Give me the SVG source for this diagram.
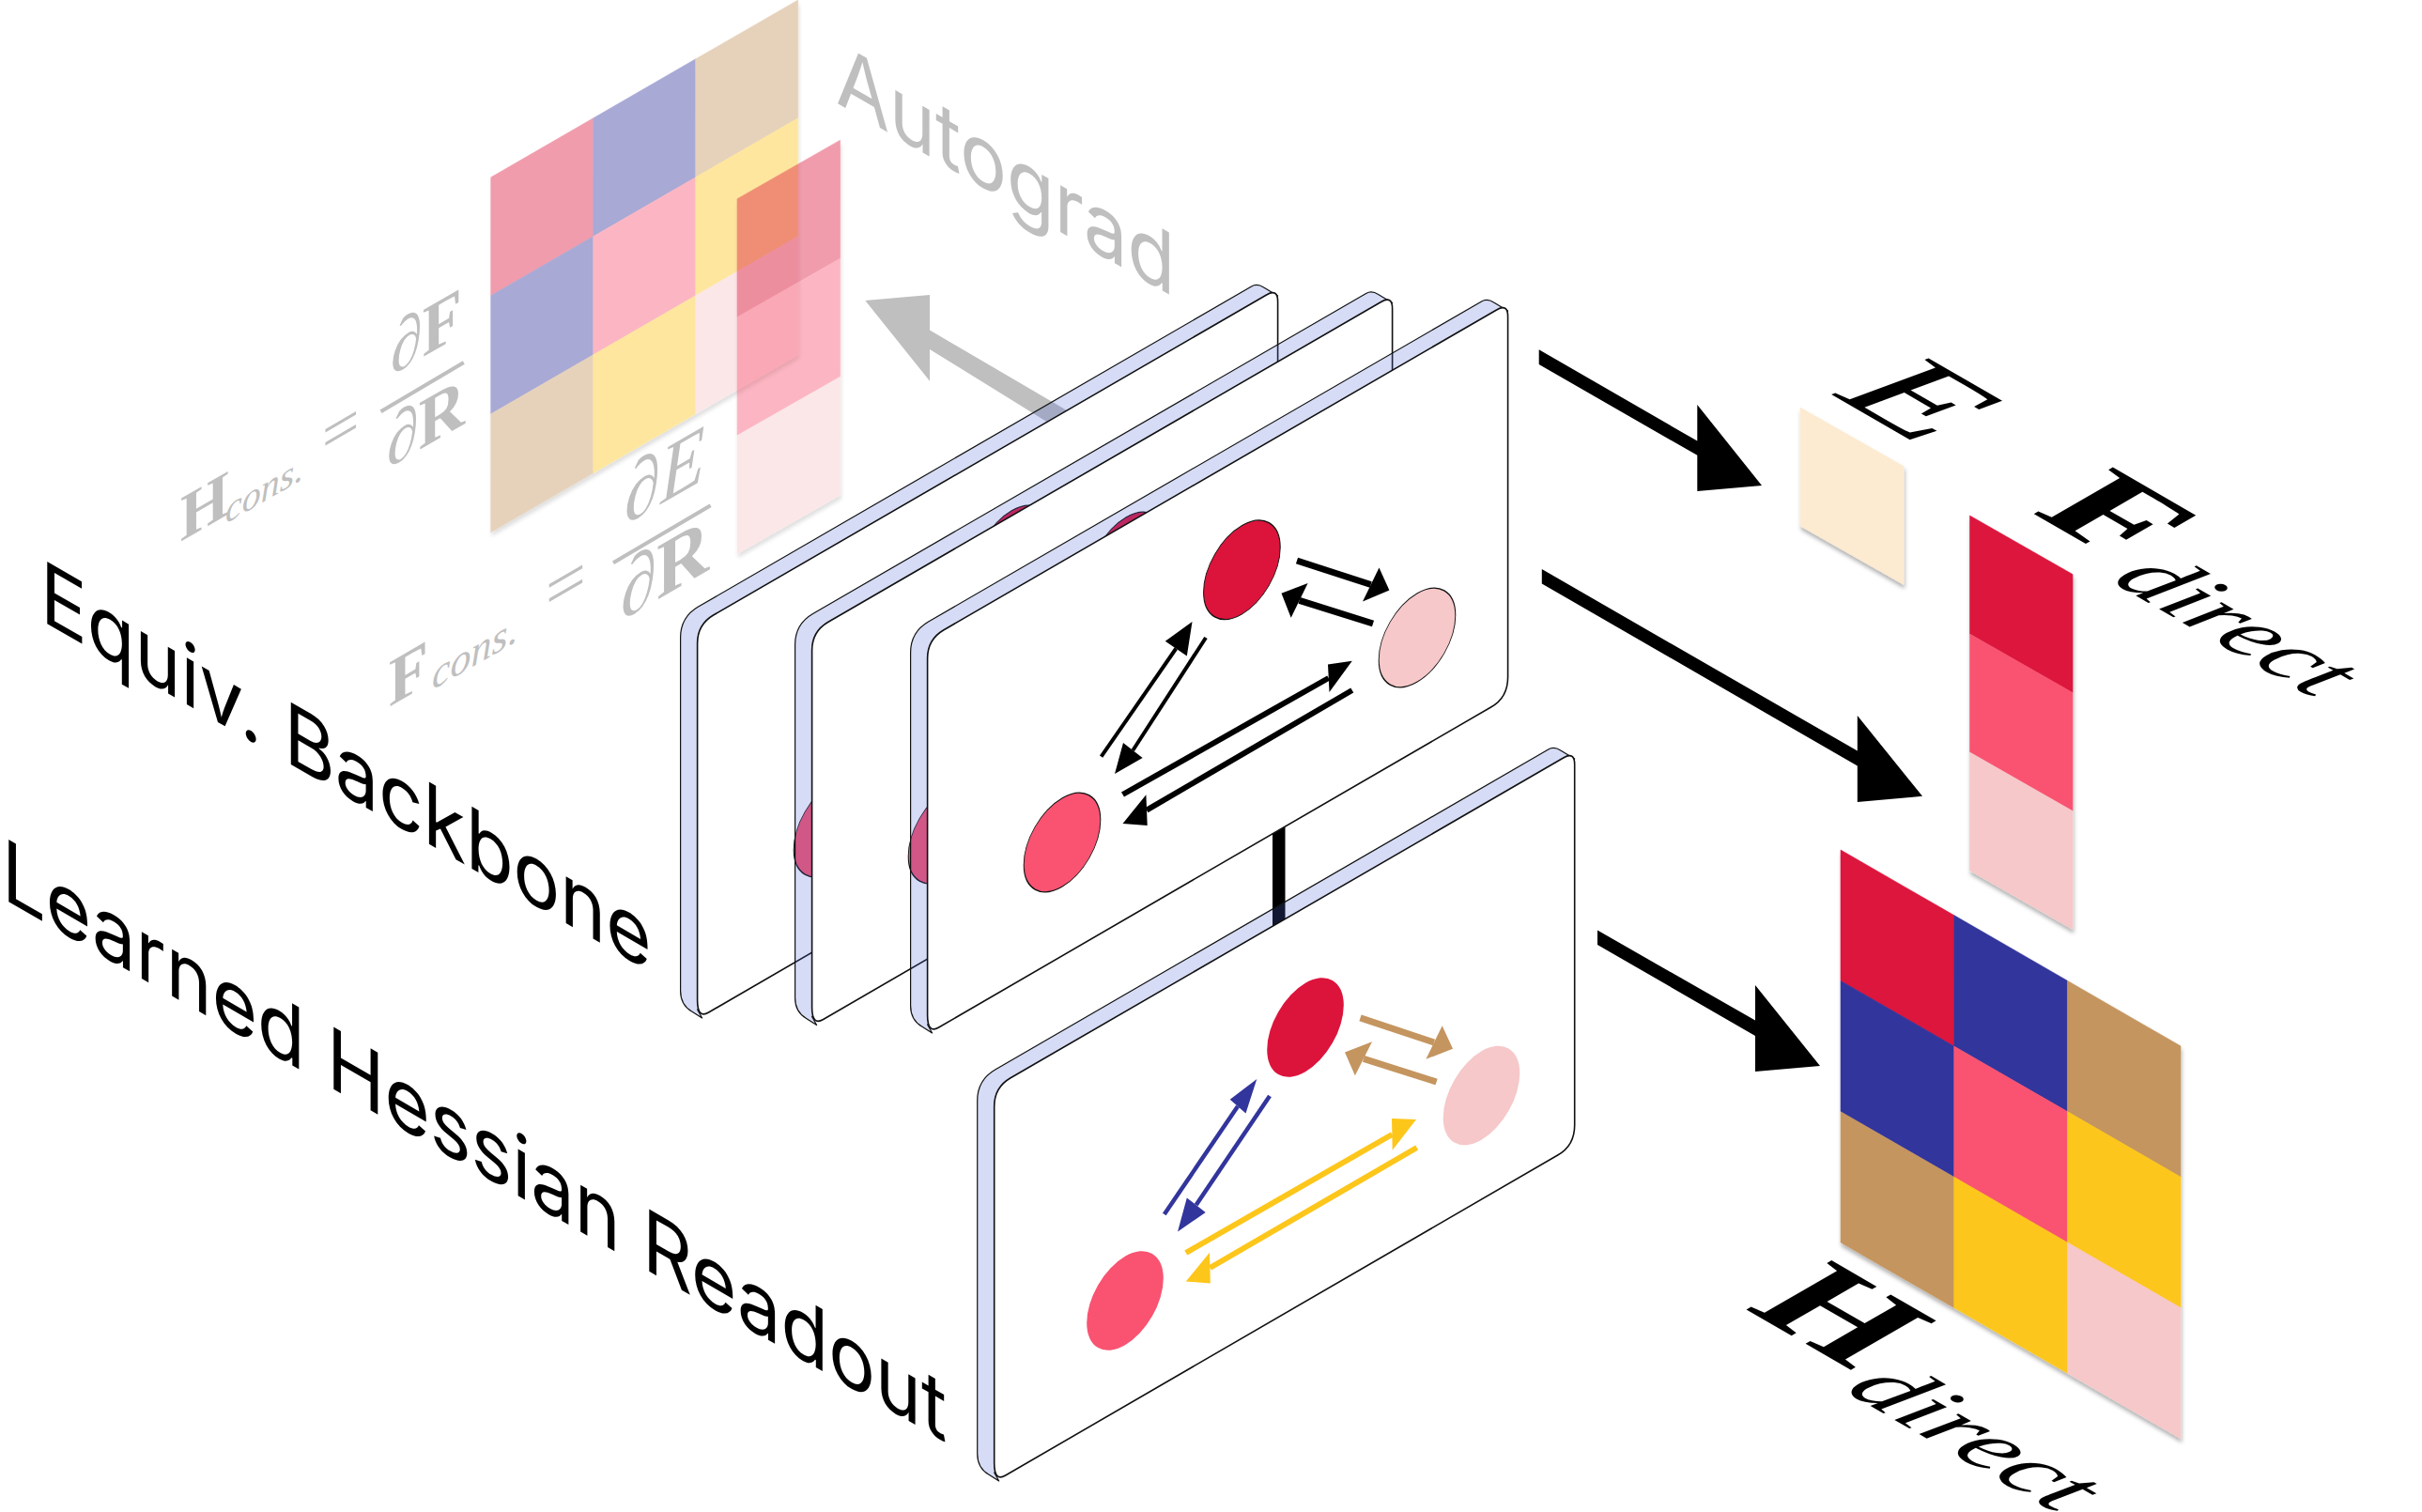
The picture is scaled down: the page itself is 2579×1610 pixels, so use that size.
<svg xmlns="http://www.w3.org/2000/svg" width="2579" height="1610" viewBox="0 0 2579 1610">
<style>
.cr{fill:#DC143C;stroke:#DC143C;stroke-width:.5}
.bl{fill:#32359C;stroke:#32359C;stroke-width:.5}
.ta{fill:#C4955F;stroke:#C4955F;stroke-width:.5}
.ye{fill:#FDC61A;stroke:#FDC61A;stroke-width:.5}
.pk{fill:#F95371;stroke:#F95371;stroke-width:.5}
.lp{fill:#F6C8C9;stroke:#F6C8C9;stroke-width:.5}
.be{fill:#FCEBD0;stroke:#FCEBD0;stroke-width:.5}
.ghost{opacity:.42}
.sh{filter:url(#shadow)}
.sans{font-family:"Inter","Liberation Sans",sans-serif;font-size:91px}
.grey{fill:#BFBFBF}
.serif{font-family:"Liberation Serif",serif}
.b{font-weight:700}
.i{font-style:italic}
.band{fill:#4E68D5;fill-opacity:.23;stroke:#111;stroke-width:1.2;stroke-linejoin:round}
.face{fill:#fff;stroke:#111;stroke-width:1.6;stroke-linejoin:round}
.nd{stroke:#111;stroke-width:1}
.n0{stroke:none}
.k{stroke:#000;fill:none}
.kf{fill:#000}
.t{stroke:#C4955F;stroke-width:7;fill:none}.tf{fill:#C4955F}
.u{stroke:#32359C;stroke-width:4.5;fill:none}.uf{fill:#32359C}
.y{stroke:#FDC61A;stroke-width:6;fill:none}.yf{fill:#FDC61A}
.bar{fill:#BFBFBF;stroke:none}
</style>
<defs>
<filter id="shadow" x="-10%" y="-10%" width="120%" height="120%"><feDropShadow dx="1" dy="4" stdDeviation="2" flood-color="#000" flood-opacity=".3"/></filter>
<g id="slab">
<path class="band" d="M-18,14 Q-18,-8 1,-19 L590,-360 Q596,-363.5 603,-359 L618,-350 L600,-340 L600,30 L0,410 L5,419 L-6,412 Q-18,405 -18,390 Z"/>
<path class="face" d="M0,20 Q0,0 17,-10 L606,-351 Q618,-358 618,-344 L618,40 Q618,62 600,72 L12,413 Q0,420 0,400 Z"/>
</g>
<g id="node3"><circle r="40.8"/></g>
</defs>

<g id="ghost-hessian" class="ghost sh">
<polygon class="cr" points="522.7,188.8 631.7,125.8 631.7,251.8 522.7,314.8"/>
<polygon class="bl" points="631.7,125.8 740.7,62.8 740.7,188.8 631.7,251.8"/>
<polygon class="ta" points="740.7,62.8 849.7,0 849.7,125.8 740.7,188.8"/>
<polygon class="bl" points="522.7,314.8 631.7,251.8 631.7,377.8 522.7,440.8"/>
<polygon class="pk" points="631.7,251.8 740.7,188.8 740.7,314.8 631.7,377.8"/>
<polygon class="ye" points="740.7,188.8 849.7,125.8 849.7,251.8 740.7,314.8"/>
<polygon class="ta" points="522.7,440.8 631.7,377.8 631.7,503.8 522.7,566.8"/>
<polygon class="ye" points="631.7,377.8 740.7,314.8 740.7,440.8 631.7,503.8"/>
<polygon class="lp" points="740.7,314.8 849.7,251.8 849.7,377.8 740.7,440.8"/>
</g>
<g id="ghost-force" class="ghost sh">
<polygon class="cr" points="785,211.7 894.6,149.2 894.6,275.2 785,337.7"/>
<polygon class="pk" points="785,337.7 894.6,275.2 894.6,401.2 785,463.7"/>
<polygon class="lp" points="785,463.7 894.6,401.2 894.6,527.2 785,589.7"/>
</g>

<g id="label-autograd"><text class="sans grey" transform="matrix(.91,.525,0,1,890,109)">Autograd</text></g>
<g id="label-hcons" class="grey serif">
<text class="b" font-size="70" transform="matrix(.95,-.55,0,1,192,577)">H</text>
<text class="i" font-size="40" transform="matrix(1,-.58,0,1,240,558)">cons.</text>
<text font-size="70" transform="matrix(1,-.58,0,1,343,491)">=</text>
<text font-size="76" transform="matrix(.9,-.52,0,1,416,400)"><tspan class="i">∂</tspan><tspan class="b">F</tspan></text>
<line x1="405.5" y1="438.3" x2="493.8" y2="386" stroke="#BFBFBF" stroke-width="4"/>
<text font-size="76" transform="matrix(.9,-.52,0,1,412,499)"><tspan class="i">∂</tspan><tspan class="b">R</tspan></text>
</g>
<g id="label-fcons" class="grey serif">
<text class="b" font-size="72" transform="matrix(.95,-.55,0,1,414,753)">F</text>
<text class="i" font-size="44" transform="matrix(1,-.58,0,1,460,735)">cons.</text>
<text font-size="76" transform="matrix(1,-.58,0,1,581,659)">=</text>
<text font-size="86" transform="matrix(.9,-.52,0,1,665,559)"><tspan class="i">∂E</tspan></text>
<line x1="653" y1="599.3" x2="756.6" y2="538.3" stroke="#BFBFBF" stroke-width="4"/>
<text font-size="86" transform="matrix(.9,-.52,0,1,661,661)"><tspan class="i">∂</tspan><tspan class="b">R</tspan></text>
</g>

<g id="connectors-back">
<polygon class="bar" points="990,351.5 990,314 921.3,320 990,405.7 990,372 1114.5,449 1136,437"/>
<rect x="1355" y="860" width="13.5" height="140" fill="#000"/>
</g>

<g id="plane-1">
<use href="#slab" transform="translate(742.6,665)"/>
<g fill="#F95371" class="nd"><use href="#node3" transform="matrix(1,-.58,0,1.156,886,881)"/></g>
<g fill="#DC143C" class="nd"><use href="#node3" transform="matrix(1,-.58,0,1.156,1077,591)"/></g>
</g>
<g id="plane-2">
<use href="#slab" transform="translate(864.6,672.5)"/>
<g fill="#F95371" class="nd"><use href="#node3" transform="matrix(1,-.58,0,1.156,1008,888)"/></g>
<g fill="#DC143C" class="nd"><use href="#node3" transform="matrix(1,-.58,0,1.156,1199,598)"/></g>
</g>
<g id="plane-3">
<use href="#slab" transform="translate(987.6,681)"/>
<g id="node-a" fill="#DC143C" class="nd"><use href="#node3" transform="matrix(1,-.58,0,1.156,1322.4,606.8)"/></g>
<g id="node-b" fill="#F6C8C9" class="nd"><use href="#node3" transform="matrix(1,-.58,0,1.156,1509,679)"/></g>
<g id="node-c" fill="#F95371" class="nd"><use href="#node3" transform="matrix(1,-.58,0,1.156,1131,897)"/></g>
</g>
<g id="plane-readout">
<use href="#slab" transform="translate(1058.7,1158)"/>
<g id="node-d" fill="#DC143C" class="n0"><use href="#node3" transform="matrix(1,-.58,0,1.156,1390,1094)"/></g>
<g id="node-e" fill="#F6C8C9" class="n0"><use href="#node3" transform="matrix(1,-.58,0,1.156,1577.5,1166.5)"/></g>
<g id="node-f" fill="#F95371" class="n0"><use href="#node3" transform="matrix(1,-.58,0,1.156,1198,1385)"/></g>
</g>

<g id="matrix-e" class="sh"><polygon class="be" points="1917,434 2027,496.4 2027,622.4 1917,560"/></g>
<g id="matrix-f" class="sh">
<polygon class="cr" points="2097.5,549 2207,611.6 2207,737.6 2097.5,675"/>
<polygon class="pk" points="2097.5,675 2207,737.6 2207,863.6 2097.5,801"/>
<polygon class="lp" points="2097.5,801 2207,863.6 2207,989.6 2097.5,927"/>
</g>
<g id="matrix-h" class="sh">
<polygon class="cr" points="1960,905 2080.7,974.6 2080.7,1114 1960,1044.4"/>
<polygon class="bl" points="2080.7,974.6 2201.4,1044.2 2201.4,1183.6 2080.7,1114"/>
<polygon class="ta" points="2201.4,1044.2 2322,1113.8 2322,1253.2 2201.4,1183.6"/>
<polygon class="bl" points="1960,1044.4 2080.7,1114 2080.7,1253.3 1960,1183.7"/>
<polygon class="pk" points="2080.7,1114 2201.4,1183.6 2201.4,1322.9 2080.7,1253.3"/>
<polygon class="ye" points="2201.4,1183.6 2322,1253.2 2322,1392.5 2201.4,1322.9"/>
<polygon class="ta" points="1960,1183.7 2080.7,1253.3 2080.7,1392.6 1960,1323"/>
<polygon class="ye" points="2080.7,1253.3 2201.4,1322.9 2201.4,1462.2 2080.7,1392.6"/>
<polygon class="lp" points="2201.4,1322.9 2322,1392.5 2322,1531.8 2201.4,1462.2"/>
</g>

<g id="connectors">
<g stroke-linecap="butt">
<line class="k" stroke-width="7" x1="1381" y1="597" x2="1459.7" y2="622.5"/><polygon class="kf" points="1468.5,604.6 1479.4,628.5 1451,640.4"/>
<line class="k" stroke-width="7" x1="1462" y1="664" x2="1383.6" y2="639.3"/><polygon class="kf" points="1392.6,620.9 1364.5,631.7 1374.7,657.7"/>
<line class="k" stroke-width="4" x1="1172.6" y1="805.7" x2="1252.3" y2="690.5"/><polygon class="kf" points="1240.8,682.7 1269.5,662 1263.8,698.4"/>
<line class="k" stroke-width="4" x1="1284" y1="679" x2="1206.3" y2="799"/><polygon class="kf" points="1196,791 1187,824 1216.6,807"/>
<line class="k" stroke-width="6" x1="1195.5" y1="846" x2="1414.7" y2="722"/><polygon class="kf" points="1414,707.6 1439.8,703.8 1415.5,736.9"/>
<line class="k" stroke-width="6" x1="1439.8" y1="735" x2="1221" y2="862.6"/><polygon class="kf" points="1220.4,846.3 1195.5,877 1221.7,879"/>
<line class="t" x1="1448.5" y1="1083.9" x2="1527" y2="1110"/><polygon class="tf" points="1535.7,1092.3 1547,1116.7 1518.4,1127.8"/>
<line class="t" x1="1529.6" y1="1152" x2="1452" y2="1127.3"/><polygon class="tf" points="1461,1109.3 1432,1120.4 1442.9,1145.3"/>
<line class="u" x1="1239.8" y1="1293" x2="1318" y2="1178"/><polygon class="uf" points="1309.7,1170.7 1338.3,1149 1326.5,1185.5"/>
<line class="u" x1="1352" y1="1167" x2="1273.7" y2="1283"/><polygon class="uf" points="1263.8,1275.5 1254,1311.5 1283.7,1290.9"/>
<line class="y" x1="1262.8" y1="1334" x2="1482.3" y2="1208"/><polygon class="yf" points="1482,1191 1508,1192 1482.7,1224.7"/>
<line class="y" x1="1508.7" y1="1222" x2="1288.4" y2="1350"/><polygon class="yf" points="1288,1333.7 1262.8,1364.4 1288.8,1366.5"/>
</g>
<polygon class="kf" points="1638.7,372.3 1807.3,469.6 1807.3,431 1876,517 1807.3,523 1807.3,484.8 1638.7,388"/>
<polygon class="kf" points="1641.8,606 1977.8,799.6 1977.8,762 2047,847.8 1977.8,854 1977.8,815.6 1641.8,621.4"/>
<polygon class="kf" points="1701,990.6 1869,1086.5 1869,1049 1938,1135 1869,1141 1869,1103 1701,1006"/>
</g>

<g id="label-equiv"><text class="sans" transform="matrix(.91,.525,0,1,43,660)">Equiv. Backbone</text></g>
<g id="label-readout"><text class="sans" transform="matrix(.91,.525,0,1,2,956)">Learned Hessian Readout</text></g>
<g id="label-e" class="serif"><text class="i" font-size="150" transform="matrix(1.065,.615,-.866,.5,1952,421)">E</text></g>
<g id="label-fdirect" class="serif">
<text class="b" font-size="150" transform="matrix(1.08,.625,-.866,.5,2162,545)">F</text>
<text class="i" font-size="100" transform="matrix(.953,.55,-.866,.5,2246,618)">direct</text>
</g>
<g id="label-hdirect" class="serif">
<text class="b" font-size="160" transform="matrix(.935,.54,-.866,.5,1857,1393)">H</text>
<text class="i" font-size="100" transform="matrix(.996,.575,-.866,.5,1962,1480)">direct</text>
</g>
</svg>
